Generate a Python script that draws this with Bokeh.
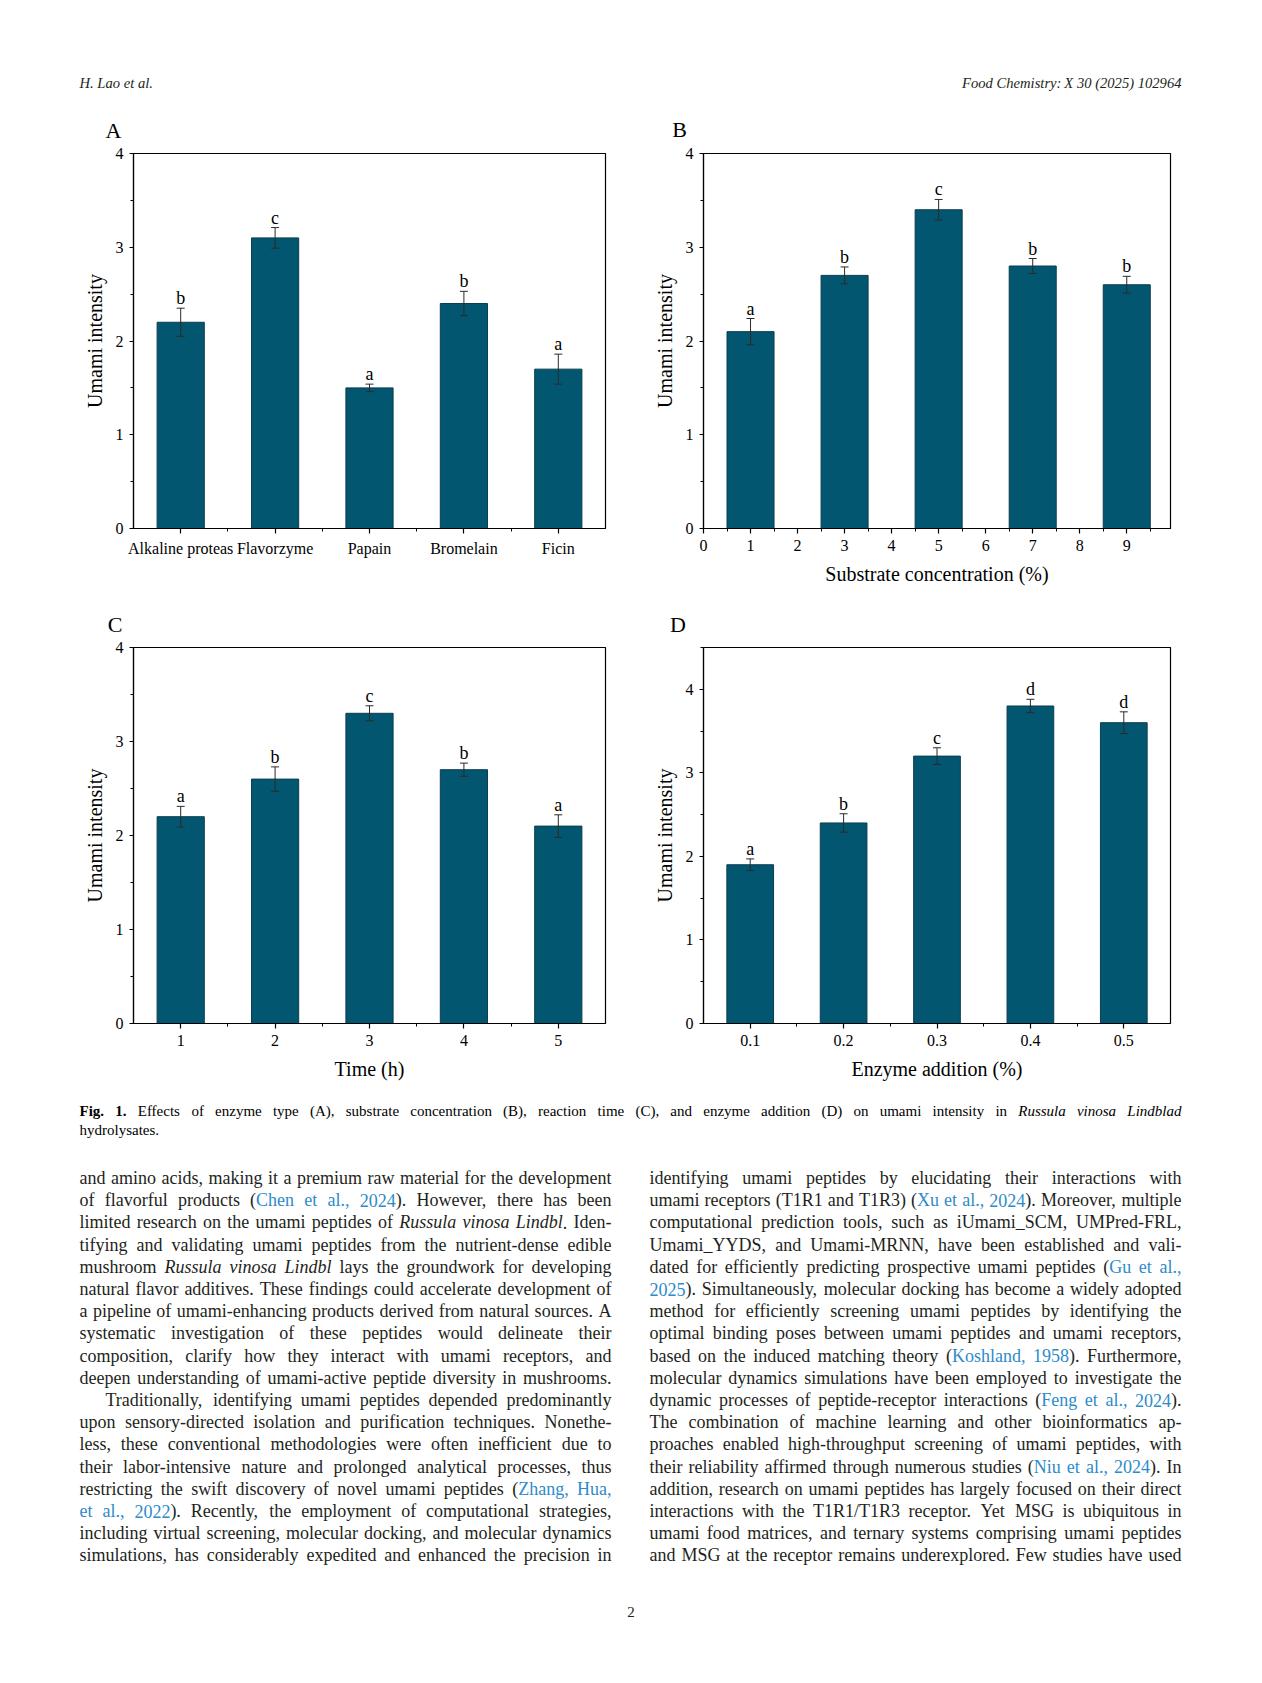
from bokeh.plotting import figure
from bokeh.models import Range1d, FixedTicker, Whisker, TeeHead, ColumnDataSource
from bokeh.layouts import column, row
from bokeh.embed import file_html
from bokeh.resources import INLINE
from bokeh.core.properties import value, field

SERIF = "Liberation Serif"
BAR_COLOR = "#03566f"
BAR_EDGE = "#0b3e50"
ERR_COLOR = "#2b2b2b"
LINK = "#2e8bc9"
INK = "#231f20"

# ---------------- data ----------------
# Panel A: enzyme type
enzymes = ["Alkaline proteas", "Flavorzyme", "Papain", "Bromelain", "Ficin"]
a_pos = [1, 2, 3, 4, 5]
a_val = [2.2, 3.1, 1.5, 2.4, 1.7]
a_err = [0.15, 0.11, 0.04, 0.13, 0.16]
a_sig = ["b", "c", "a", "b", "a"]

# Panel B: substrate concentration (%)
substrate = [1, 3, 5, 7, 9]
b_val = [2.1, 2.7, 3.4, 2.8, 2.6]
b_err = [0.14, 0.09, 0.11, 0.08, 0.09]
b_sig = ["a", "b", "c", "b", "b"]

# Panel C: time (h)
time_h = [1, 2, 3, 4, 5]
c_val = [2.2, 2.6, 3.3, 2.7, 2.1]
c_err = [0.11, 0.13, 0.08, 0.07, 0.12]
c_sig = ["a", "b", "c", "b", "a"]

# Panel D: enzyme addition (%)
enzyme_add = [0.1, 0.2, 0.3, 0.4, 0.5]
d_val = [1.9, 2.4, 3.2, 3.8, 3.6]
d_err = [0.07, 0.11, 0.10, 0.08, 0.13]
d_sig = ["a", "b", "c", "d", "d"]

panel_letters = ["A", "B", "C", "D"]

y_ticks4 = [0, 1, 2, 3, 4]
y_minor4 = [0.5, 1.5, 2.5, 3.5]
y_minor45 = [0.5, 1.5, 2.5, 3.5, 4.5]


def panel(w, h, bl, br, bt, bb, xr, yr, x, vals, errs, sig, bar_w,
          xt, xminor, yt, yminor, xlabel=None, overrides=None):
    p = figure(width=w, height=h, x_range=Range1d(*xr), y_range=Range1d(*yr),
               output_backend="svg", toolbar_location=None, title_location=None,
               min_border_left=bl, min_border_right=br,
               min_border_top=bt, min_border_bottom=bb)
    p.grid.visible = False
    p.background_fill_color = "white"
    p.border_fill_color = "white"
    p.outline_line_color = "black"
    p.outline_line_width = 1.2
    p.outline_line_alpha = 1.0
    lower = [v - e for v, e in zip(vals, errs)]
    upper = [v + e for v, e in zip(vals, errs)]
    src = ColumnDataSource(dict(x=x, top=vals, lower=lower, upper=upper, sig=sig))
    p.vbar(x="x", top="top", width=bar_w, bottom=0, source=src,
           fill_color=BAR_COLOR, line_color=BAR_EDGE, line_width=1)
    wh = Whisker(base="x", upper="upper", lower="lower", source=src,
                 line_color=ERR_COLOR, line_width=1, level="overlay",
                 upper_head=TeeHead(size=8, line_color=ERR_COLOR, line_width=1),
                 lower_head=TeeHead(size=8, line_color=ERR_COLOR, line_width=1))
    p.add_layout(wh)
    p.text(x="x", y="upper", text="sig", source=src, text_font=value(SERIF),
           text_font_size=value("18px"), text_align="center",
           text_baseline="middle", y_offset=-10, text_color="black")

    p.xaxis.ticker = FixedTicker(ticks=xt, minor_ticks=xminor)
    p.yaxis.ticker = FixedTicker(ticks=yt, minor_ticks=yminor)
    if overrides:
        p.xaxis.major_label_overrides = overrides
    for ax in (p.xaxis, p.yaxis):
        ax.axis_line_color = "black"
        ax.axis_line_width = 1.2
        ax.major_tick_line_color = "black"
        ax.minor_tick_line_color = "black"
        ax.major_tick_line_width = 1.2
        ax.minor_tick_line_width = 1.0
        ax.major_tick_in = 0
        ax.minor_tick_in = 0
        ax.major_label_text_font = SERIF
        ax.major_label_text_font_size = "16px"
        ax.major_label_text_color = "black"
        ax.axis_label_text_font = SERIF
        ax.axis_label_text_font_size = "20px"
        ax.axis_label_text_font_style = "normal"
        ax.axis_label_text_color = "black"
    p.xaxis.major_tick_out = 5
    p.xaxis.minor_tick_out = 3
    p.yaxis.major_tick_out = 4
    p.yaxis.minor_tick_out = 3
    p.xaxis.major_label_standoff = 6
    p.yaxis.major_label_standoff = 6
    p.yaxis.axis_label_standoff = 7
    p.xaxis.axis_label_standoff = 9
    p.yaxis.axis_label = "Umami intensity"
    if xlabel:
        p.xaxis.axis_label = xlabel
    return p


# ---------------- text layout helpers ----------------
_lower = "abcdefghijklmnopqrstuvwxyz"
_upper = "ABCDEFGHIJKLMNOPQRSTUVWXYZ"
W_REG_L = [444, 500, 444, 500, 444, 333, 500, 500, 278, 278, 500, 278, 778, 500, 500, 500, 500, 333, 389, 278, 500, 500, 722, 500, 500, 444]
W_REG_U = [722, 667, 667, 722, 611, 556, 722, 722, 333, 389, 722, 611, 889, 722, 722, 556, 722, 667, 556, 611, 722, 722, 944, 722, 722, 611]
W_IT_L = [500, 500, 444, 500, 444, 278, 500, 500, 278, 278, 444, 278, 722, 500, 500, 500, 500, 389, 389, 278, 500, 444, 667, 444, 444, 389]
W_IT_U = [611, 611, 667, 722, 611, 611, 722, 722, 333, 444, 667, 556, 833, 667, 722, 611, 722, 611, 500, 556, 722, 611, 833, 611, 556, 556]
W_BD_L = [500, 556, 444, 556, 444, 333, 500, 556, 278, 333, 556, 278, 833, 556, 500, 556, 556, 444, 389, 333, 556, 500, 722, 500, 500, 444]
W_BD_U = [722, 667, 722, 722, 667, 611, 778, 778, 389, 500, 778, 667, 944, 722, 778, 611, 778, 722, 556, 667, 722, 722, 1000, 722, 722, 667]
PUNCT = {" ": 250, ",": 250, ".": 250, "(": 333, ")": 333, "-": 333, "/": 278,
         ":": 278, ";": 278, "_": 500, "%": 833}

TABLES = {}
for st, lo, up in (("normal", W_REG_L, W_REG_U), ("italic", W_IT_L, W_IT_U), ("bold", W_BD_L, W_BD_U)):
    t = dict(PUNCT)
    t.update({c: w for c, w in zip(_lower, lo)})
    t.update({c: w for c, w in zip(_upper, up)})
    for d in "0123456789":
        t[d] = 500
    TABLES[st] = t


def run_width(txt, st, fs):
    t = TABLES[st]
    return sum(t.get(c, 500) for c in txt) * fs / 1000.0


def parse(line, base_color):
    words, cur, buf = [], [], []
    st = {"i": False, "b": False, "B": False}

    def flush():
        if buf:
            style = "bold" if st["B"] else ("italic" if st["i"] else "normal")
            color = LINK if st["b"] else base_color
            cur.append(("".join(buf), style, color))
            buf.clear()

    for ch in line:
        if ch == "*":
            flush(); st["i"] = not st["i"]
        elif ch == "^":
            flush(); st["B"] = not st["B"]
        elif ch == "[":
            flush(); st["b"] = True
        elif ch == "]":
            flush(); st["b"] = False
        elif ch == " ":
            flush()
            if cur:
                words.append(list(cur)); cur.clear()
        else:
            buf.append(ch)
    flush()
    if cur:
        words.append(list(cur))
    return words


def place(out, line, x0, x1, y, fs, mode="justify", color=INK):
    words = parse(line, color)
    ww = [sum(run_width(t, s, fs) for t, s, c in w) for w in words]
    total = sum(ww)
    space = 0.25 * fs
    n = len(words)
    if mode == "justify" and n > 1:
        gap = max((x1 - x0 - total) / (n - 1), 0.12 * fs)
        x = x0
    else:
        gap = space
        natural = total + space * (n - 1)
        if mode == "right":
            x = x1 - natural
        elif mode == "center":
            x = (x0 + x1 - natural) / 2.0
        else:
            x = x0
    for w, wd in zip(words, ww):
        xx = x
        for t, s, c in w:
            out["x"].append(xx); out["y"].append(y); out["t"].append(t)
            out["st"].append(s); out["c"].append(c)
            xx += run_width(t, s, fs)
        x += wd + gap


def new_out():
    return {"x": [], "y": [], "t": [], "st": [], "c": []}


def blank(w, h):
    p = figure(width=w, height=h, x_range=Range1d(0, w), y_range=Range1d(h, 0),
               output_backend="svg", toolbar_location=None, title_location=None,
               x_axis_location=None, y_axis_location=None, min_border=0)
    p.grid.visible = False
    p.outline_line_color = None
    p.background_fill_color = "white"
    p.border_fill_color = "white"
    return p


def draw(p, out, fs):
    src = ColumnDataSource(out)
    p.text(x="x", y="y", text="t", source=src, text_font=value(SERIF),
           text_font_size=value(f"{fs}px"), text_font_style=field("st"),
           text_color=field("c"), text_baseline="middle", text_align="left")


def letters(p, xs, ys, labels):
    src = ColumnDataSource({"x": xs, "y": ys, "t": labels})
    p.text(x="x", y="y", text="t", source=src, text_font=value(SERIF),
           text_font_size=value("22px"), text_align="center", text_baseline="middle",
           text_color="black")


# ---------------- header (running head + letters A, B) ----------------
W = 1254
header = blank(W, 143)
o = new_out()
place(o, "*H. Lao et al.*", 79, 1181, 82.5, 14.6, "left")
place(o, "*Food Chemistry: X 30 (2025) 102964*", 79, 1181, 82.5, 14.6, "right")
draw(header, o, 14.6)
letters(header, [113, 679], [129.5, 129], panel_letters[:2])

# ---------------- charts ----------------
pA = panel(650, 460, 133, 45, 10, 75, (0.5, 5.5), (0, 4), a_pos, a_val, a_err, a_sig, 0.5,
           a_pos, [1.5, 2.5, 3.5, 4.5], y_ticks4, y_minor4,
           overrides={k: v for k, v in zip(a_pos, enzymes)})
pB = panel(604, 460, 48, 84, 10, 75, (0, 9.93), (0, 4), substrate, b_val, b_err, b_sig, 1.0,
           list(range(0, 10)), [i + 0.5 for i in range(0, 10)], y_ticks4, y_minor4,
           xlabel="Substrate concentration (%)")

strip = blank(W, 34)
letters(strip, [114.5, 677.5], [20.5, 20.5], panel_letters[2:])

pC = panel(650, 448, 133, 45, 10, 62, (0.5, 5.5), (0, 4), time_h, c_val, c_err, c_sig, 0.5,
           time_h, [1.5, 2.5, 3.5, 4.5], y_ticks4, y_minor4, xlabel="Time (h)")
pD = panel(604, 448, 48, 84, 10, 62, (0.05, 0.55), (0, 4.5), enzyme_add, d_val, d_err, d_sig, 0.05,
           enzyme_add, [0.15, 0.25, 0.35, 0.45], y_ticks4, y_minor45,
           xlabel="Enzyme addition (%)")

# ---------------- caption + body ----------------
caption = [
    "^Fig. 1.^ Effects of enzyme type (A), substrate concentration (B), reaction time (C), and enzyme addition (D) on umami intensity in *Russula vinosa Lindblad*",
    "hydrolysates.",
]
left_col = [
    "and amino acids, making it a premium raw material for the development",
    "of flavorful products ([Chen et al., 2024]). However, there has been",
    "limited research on the umami peptides of *Russula vinosa Lindbl*. Iden-",
    "tifying and validating umami peptides from the nutrient-dense edible",
    "mushroom *Russula vinosa Lindbl* lays the groundwork for developing",
    "natural flavor additives. These findings could accelerate development of",
    "a pipeline of umami-enhancing products derived from natural sources. A",
    "systematic investigation of these peptides would delineate their",
    "composition, clarify how they interact with umami receptors, and",
    "deepen understanding of umami-active peptide diversity in mushrooms.",
    "Traditionally, identifying umami peptides depended predominantly",
    "upon sensory-directed isolation and purification techniques. Nonethe-",
    "less, these conventional methodologies were often inefficient due to",
    "their labor-intensive nature and prolonged analytical processes, thus",
    "restricting the swift discovery of novel umami peptides ([Zhang, Hua,]",
    "[et al., 2022]). Recently, the employment of computational strategies,",
    "including virtual screening, molecular docking, and molecular dynamics",
    "simulations, has considerably expedited and enhanced the precision in",
]
right_col = [
    "identifying umami peptides by elucidating their interactions with",
    "umami receptors (T1R1 and T1R3) ([Xu et al., 2024]). Moreover, multiple",
    "computational prediction tools, such as iUmami_SCM, UMPred-FRL,",
    "Umami_YYDS, and Umami-MRNN, have been established and vali-",
    "dated for efficiently predicting prospective umami peptides ([Gu et al.,]",
    "[2025]). Simultaneously, molecular docking has become a widely adopted",
    "method for efficiently screening umami peptides by identifying the",
    "optimal binding poses between umami peptides and umami receptors,",
    "based on the induced matching theory ([Koshland, 1958]). Furthermore,",
    "molecular dynamics simulations have been employed to investigate the",
    "dynamic processes of peptide-receptor interactions ([Feng et al., 2024]).",
    "The combination of machine learning and other bioinformatics ap-",
    "proaches enabled high-throughput screening of umami peptides, with",
    "their reliability affirmed through numerous studies ([Niu et al., 2024]). In",
    "addition, research on umami peptides has largely focused on their direct",
    "interactions with the T1R1/T1R3 receptor. Yet MSG is ubiquitous in",
    "umami food matrices, and ternary systems comprising umami peptides",
    "and MSG at the receptor remains underexplored. Few studies have used",
]

TH = 590
txt = blank(W, TH)
cap = new_out()
place(cap, caption[0], 79, 1181, 25.5, 15, "justify", "black")
place(cap, caption[1], 79, 1181, 44.5, 15, "left", "black")
draw(txt, cap, 15)

BODY_FS = 18
body = new_out()
for i, ln in enumerate(left_col):
    x0 = 79 + (26 if i == 10 else 0)
    place(body, ln, x0, 611, 92.5 + 22.2 * i, BODY_FS, "justify")
for i, ln in enumerate(right_col):
    place(body, ln, 649, 1181, 92.5 + 22.2 * i, BODY_FS, "justify")
draw(txt, body, BODY_FS)

pn = new_out()
place(pn, "2", 608, 653, 526, 15, "center")
draw(txt, pn, 15)

layout = column(header, row(pA, pB), strip, row(pC, pD), txt)
open("out.html", "w").write(file_html(layout, INLINE))
